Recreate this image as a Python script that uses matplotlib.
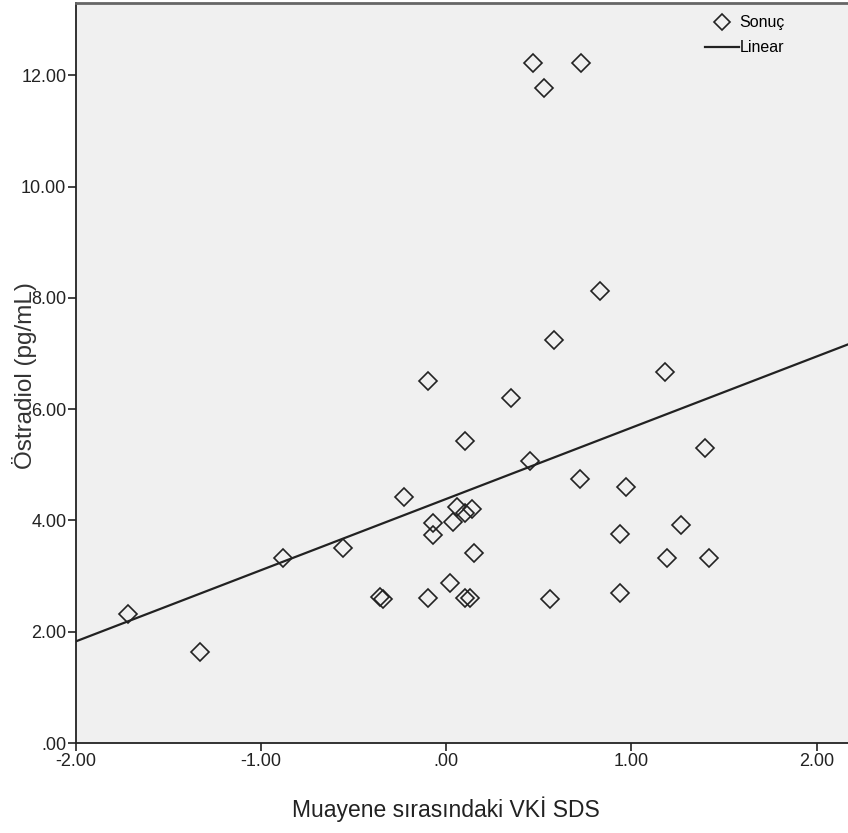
import numpy as np
import matplotlib
matplotlib.use("Agg")
import matplotlib.pyplot as plt
from matplotlib.lines import Line2D
from matplotlib.ticker import FuncFormatter

plt.rcParams["font.family"] = ["Liberation Sans", "DejaVu Sans"]

# Muayene sırasındaki VKİ SDS vs Östradiol (pg/mL)
vki_sds = [
    -1.72, -1.33, -0.88, -0.56, -0.36, -0.34, -0.23, -0.10, -0.10,
    -0.07, -0.07, 0.02, 0.035, 0.06, 0.10, 0.14, 0.15, 0.10, 0.13,
    0.10, 0.35, 0.45, 0.56, 0.72, 0.47, 0.53, 0.73, 0.83, 0.58,
    1.18, 0.97, 0.94, 0.94, 1.27, 1.19, 1.40, 1.42,
]
ostradiol = [
    2.32, 1.64, 3.33, 3.51, 2.63, 2.59, 4.42, 6.51, 2.61,
    3.96, 3.74, 2.88, 3.97, 4.25, 4.13, 4.20, 3.42, 2.61, 2.61,
    5.43, 6.20, 5.07, 2.59, 4.75, 12.23, 11.78, 12.23, 8.13, 7.25,
    6.67, 4.60, 3.76, 2.70, 3.92, 3.33, 5.31, 3.33,
]
x_ticks = [-2.0, -1.0, 0.0, 1.0, 2.0]
y_ticks = [0.0, 2.0, 4.0, 6.0, 8.0, 10.0, 12.0]


def spss_fmt(v, pos=None):
    # SPSS drops the leading zero: 0.00 -> .00
    s = f"{v:.2f}"
    if s.startswith("0."):
        s = s[1:]
    elif s.startswith("-0."):
        s = "-" + s[2:]
    return s


fig = plt.figure(figsize=(8.48, 8.33), dpi=100)
ax = fig.add_axes([76 / 848, 90 / 833, 1 - 76 / 848, 740 / 833])
ax.set_facecolor("#f0f0f0")

x = np.array(vki_sds)
y = np.array(ostradiol)
slope, intercept = np.polyfit(x, y, 1)

ax.set_xlim(-2.0, 2.17)
ax.set_ylim(0, 13.3)

# fit line across the whole axis
xs = np.array(ax.get_xlim())
ax.plot(xs, intercept + slope * xs, color="#222222", lw=1.6, zorder=2)
ax.plot(x, y, linestyle="none", marker="D", markersize=9, markerfacecolor="none",
        markeredgecolor="#222222", markeredgewidth=1.2, zorder=3)

ax.set_xticks(x_ticks)
ax.set_yticks(y_ticks)
ax.xaxis.set_major_formatter(FuncFormatter(spss_fmt))
ax.yaxis.set_major_formatter(FuncFormatter(spss_fmt))
ax.tick_params(direction="out", length=6, width=1.2, labelsize=13, colors="#222222", pad=1)

for side in ("left", "bottom"):
    ax.spines[side].set_color("#222222")
    ax.spines[side].set_linewidth(1.3)
ax.spines["top"].set_color("#666666")
ax.spines["top"].set_linewidth(2)
ax.spines["right"].set_visible(False)

ax.set_xlabel("Muayene sırasındaki VKİ SDS", fontsize=16.5, color="#222222")
ax.xaxis.set_label_coords((446 - 76) / 772, -0.072)
# the y label sits over the 8.00 / 6.00 tick labels, as in the original
ax.set_ylabel("Östradiol (pg/mL)", fontsize=17.5, color="#333333")
ax.yaxis.set_label_coords((37 - 76) / 772, 0.497)

handles = [
    Line2D([], [], linestyle="none", marker="D", markersize=8, markerfacecolor="none",
           markeredgecolor="#222222", markeredgewidth=1.2),
    Line2D([], [], color="#222222", lw=1.6),
]
ax.legend(handles, ["Sonuç", "Linear"], loc="upper left",
          bbox_to_anchor=((702 - 76) / 772, 1 - 9 / 740),
          frameon=False, fontsize=11.5, handlelength=2.1, handletextpad=0.05,
          labelspacing=0.62, borderaxespad=0.0, borderpad=0.2)

fig.savefig("out.png", dpi=100)
